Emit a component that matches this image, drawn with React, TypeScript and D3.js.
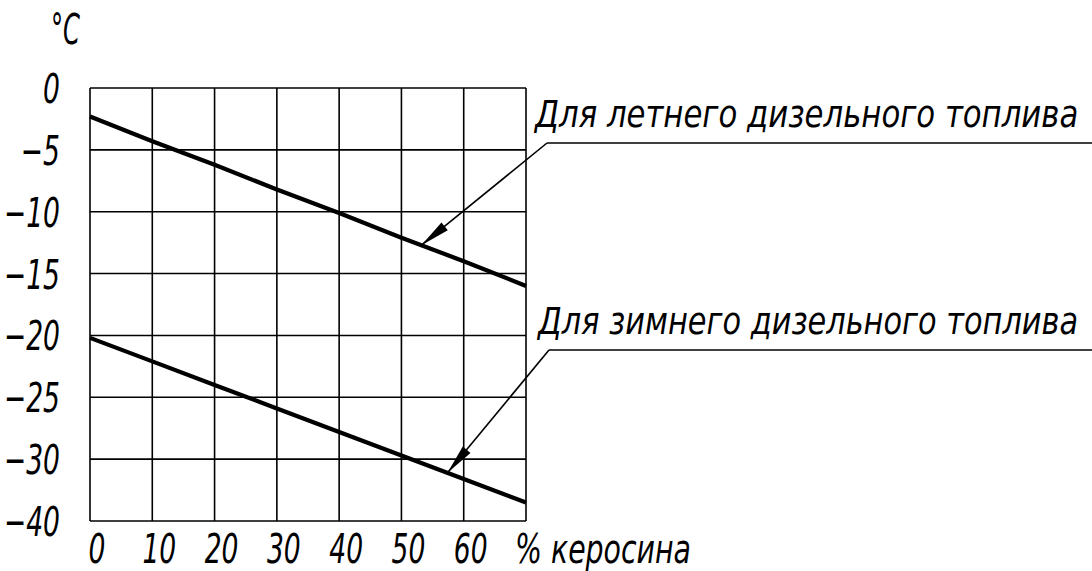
import React, { useLayoutEffect, useRef, useState } from "react";
import * as d3 from "d3";

const kerosene = [0, 10, 20, 30, 40, 50, 60, 70];
const summerFuel = [-2.3, -4.3, -6.2, -8.2, -10.1, -12.1, -14.0, -16.0];
const winterFuel = [-20.2, -22.1, -24.0, -25.9, -27.8, -29.7, -31.6, -33.5];
const xTicks = [0, 10, 20, 30, 40, 50, 60];
const xGrid = [0, 10, 20, 30, 40, 50, 60, 70];
const yTickValues = [0, -5, -10, -15, -20, -25, -30, -35];
const yTickLabels = ["0", "−5", "−10", "−15", "−20", "−25", "−30", "−40"];
const summerLabel = "Для летнего дизельного топлива";
const winterLabel = "Для зимнего дизельного топлива";
const xUnit = "% керосина";
const yUnit = "°C";

const W = 1092;
const H = 571;
const FONT = "'DejaVu Sans Condensed', 'DejaVu Sans', sans-serif";

const textStyle: React.CSSProperties = {
  fontFamily: FONT,
  fontStyle: "italic",
  fontWeight: 200,
};

function Label(props: {
  x: number;
  y: number;
  anchor?: "start" | "middle" | "end";
  sx?: number;
  size?: number;
  children: React.ReactNode;
}) {
  const { x, y, anchor = "start", sx = 0.72, size = 41, children } = props;
  return (
    <g transform={`translate(${x},${y}) scale(${sx},1)`}>
      <text x={0} y={0} textAnchor={anchor} fontSize={size} style={textStyle} fill="#000">
        {children}
      </text>
    </g>
  );
}

function FitText(props: { x: number; y: number; width: number; size: number; children: string }) {
  const { x, y, width, size, children } = props;
  const ref = useRef<SVGTextElement>(null);
  const [sx, setSx] = useState(0.9);
  useLayoutEffect(() => {
    if (ref.current) {
      const len = ref.current.getComputedTextLength();
      if (len > 0) setSx(width / len);
    }
  }, [width, children, size]);
  return (
    <g transform={`translate(${x},${y}) scale(${sx},1)`}>
      <text ref={ref} x={0} y={0} fontSize={size} style={textStyle} fill="#000">
        {children}
      </text>
    </g>
  );
}

export default function App() {
  const x = d3.scaleLinear().domain([0, 70]).range([90, 526]);
  const y = d3.scaleLinear().domain([0, -35]).range([88, 521]);
  const line = d3
    .line<number>()
    .x((_, i) => x(kerosene[i]))
    .y((d) => y(d));

  const interp = (arr: number[], k: number) => {
    const i = Math.min(Math.floor(k / 10), arr.length - 2);
    const t = (k - kerosene[i]) / 10;
    return arr[i] + (arr[i + 1] - arr[i]) * t;
  };

  const annotations = [
    { text: summerLabel, series: summerFuel, at: 53.2, elbowX: 547, elbowY: 143, textX: 535 },
    { text: winterLabel, series: winterFuel, at: 57.4, elbowX: 549, elbowY: 350, textX: 538 },
  ];

  return (
    <svg
      width={W}
      height={H}
      style={{ position: "absolute", left: 0, top: 0, background: "#fff" }}
    >
      <rect x={0} y={0} width={W} height={H} fill="#fff" />
      {/* grid */}
      <g stroke="#000" strokeWidth={1.6}>
        {xGrid.map((v) => (
          <line key={"gx" + v} x1={x(v)} x2={x(v)} y1={y(0)} y2={y(-35)} />
        ))}
        {yTickValues.map((v) => (
          <line key={"gy" + v} x1={x(0)} x2={x(70)} y1={y(v)} y2={y(v)} />
        ))}
      </g>
      {/* series */}
      <path d={line(summerFuel) || ""} fill="none" stroke="#000" strokeWidth={4.2} />
      <path d={line(winterFuel) || ""} fill="none" stroke="#000" strokeWidth={4.2} />
      {/* y tick labels */}
      {yTickValues.map((v, i) => (
        <Label key={"yl" + v} x={60} y={y(v) + 15} anchor="end">
          {yTickLabels[i]}
        </Label>
      ))}
      {/* x tick labels */}
      {xTicks.map((v) => (
        <Label key={"xl" + v} x={x(v) + 7} y={563} anchor="middle">
          {v}
        </Label>
      ))}
      <FitText x={515} y={563} width={176} size={40}>
        {xUnit}
      </FitText>
      <FitText x={51} y={44} width={29} size={42}>
        {yUnit}
      </FitText>
      {/* annotations */}
      {annotations.map((a, i) => {
        const tx = x(a.at);
        const ty = y(interp(a.series, a.at));
        const dx = a.elbowX - tx;
        const dy = a.elbowY - ty;
        const len = Math.hypot(dx, dy);
        const ux = dx / len;
        const uy = dy / len;
        const aLen = 30;
        const aW = 5;
        const bx = tx + ux * aLen;
        const by = ty + uy * aLen;
        const p1 = [bx - uy * aW, by + ux * aW];
        const p2 = [bx + uy * aW, by - ux * aW];
        return (
          <g key={"an" + i}>
            <line x1={tx} y1={ty} x2={a.elbowX} y2={a.elbowY} stroke="#000" strokeWidth={1.6} />
            <line x1={a.elbowX} y1={a.elbowY} x2={W} y2={a.elbowY} stroke="#000" strokeWidth={1.6} />
            <polygon points={`${tx},${ty} ${p1[0]},${p1[1]} ${p2[0]},${p2[1]}`} fill="#000" />
            <FitText x={a.textX} y={a.elbowY - 16} width={1078 - a.textX} size={38}>
              {a.text}
            </FitText>
          </g>
        );
      })}
    </svg>
  );
}
